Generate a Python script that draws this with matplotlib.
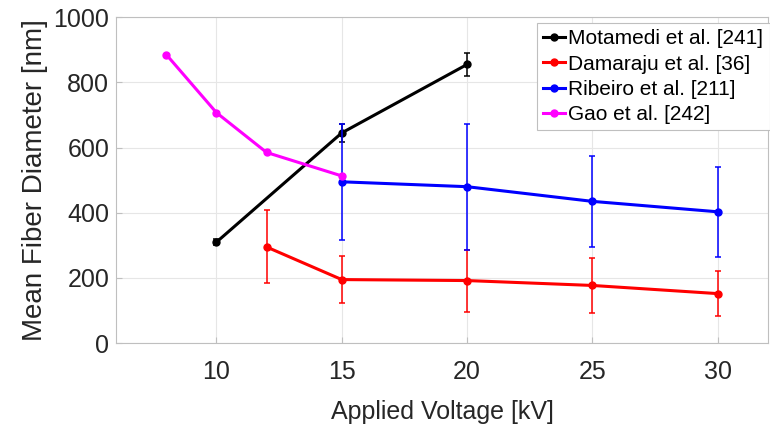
import matplotlib.pyplot as plt

plt.rcParams["font.family"] = ["Liberation Sans", "DejaVu Sans"]

# Motamedi et al. [241]
mot_v = [10, 15, 20]
mot_d = [310, 645, 855]
mot_e = [10, 28, 35]

# Damaraju et al. [36]
dam_v = [12, 15, 20, 25, 30]
dam_d = [295, 195, 192, 177, 152]
dam_e = [112, 72, 95, 84, 70]

# Ribeiro et al. [211]
rib_v = [15, 20, 25, 30]
rib_d = [495, 480, 435, 403]
rib_e = [178, 193, 140, 138]

# Gao et al. [242]
gao_v = [8, 10, 12, 15]
gao_d = [885, 707, 585, 513]

x_ticks = [10, 15, 20, 25, 30]
y_ticks = [0, 200, 400, 600, 800, 1000]

text_col = "#262626"

fig = plt.figure(figsize=(7.7, 4.3), dpi=100)
ax = fig.add_axes([0.151, 0.202, 0.846, 0.758])

series = [
    (mot_v, mot_d, mot_e, "black", "Motamedi et al. [241]"),
    (dam_v, dam_d, dam_e, "#ff0000", "Damaraju et al. [36]"),
    (rib_v, rib_d, rib_e, "#0000ff", "Ribeiro et al. [211]"),
]
handles = []
for xs, ys, es, col, lab in series:
    ax.errorbar(xs, ys, yerr=es, fmt="none", ecolor=col, elinewidth=1.1,
                capsize=2.5, capthick=1.1)
    h, = ax.plot(xs, ys, color=col, lw=2.2, marker="o", ms=5, label=lab)
    handles.append(h)
h, = ax.plot(gao_v, gao_d, color="#ff00ff", lw=2.2, marker="o", ms=5,
             label="Gao et al. [242]")
handles.append(h)

ax.set_xlim(6, 32)
ax.set_ylim(0, 1000)
ax.set_xticks(x_ticks)
ax.set_yticks(y_ticks)
ax.grid(True, color="#e6e6e6", lw=0.8)
ax.set_axisbelow(True)
for s in ax.spines.values():
    s.set_color("#bfbfbf")
ax.tick_params(direction="in", length=4, color="#bfbfbf", labelsize=18,
               labelcolor=text_col)
ax.tick_params(axis="x", pad=12)
ax.tick_params(axis="y", pad=5)
ax.set_xlabel("Applied Voltage [kV]", fontsize=18, color=text_col, labelpad=12)
ax.set_ylabel("Mean Fiber Diameter [nm]", fontsize=20, color=text_col, labelpad=4)

leg = ax.legend(handles=handles, loc="upper right", bbox_to_anchor=(1.003, 0.982),
                fontsize=15, handlelength=1.05, handletextpad=0.15,
                borderpad=0.3, labelspacing=0.3, fancybox=False,
                framealpha=1, borderaxespad=0)
leg.get_frame().set_edgecolor("#bfbfbf")
leg.get_frame().set_linewidth(0.8)

fig.savefig("out.png", dpi=100)
